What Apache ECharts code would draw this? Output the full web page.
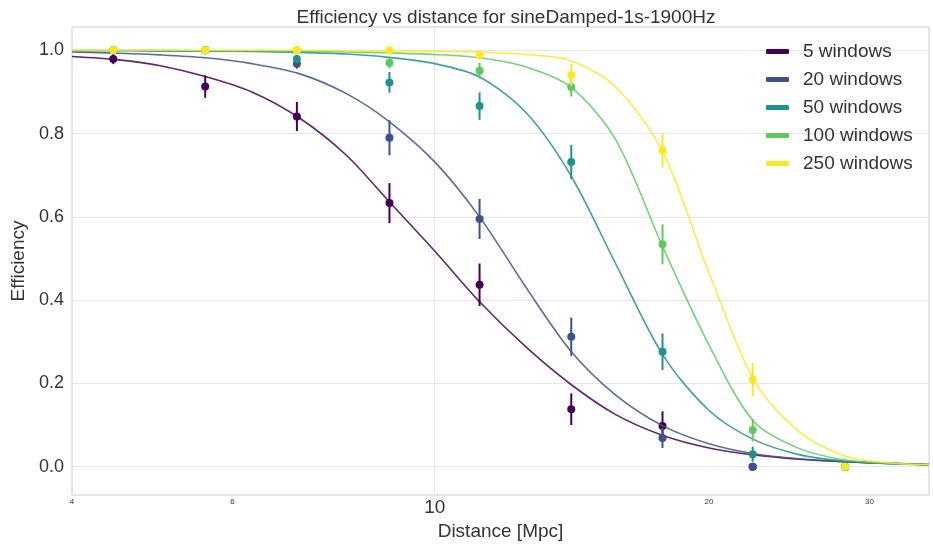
<!DOCTYPE html>
<html><head><meta charset="utf-8">
<script src="https://cdn.jsdelivr.net/npm/echarts@6/dist/echarts.min.js"></script>
<style>html,body{margin:0;padding:0;background:#fff}#c{width:933px;height:546px}</style>
</head><body><div id="c"></div>
<script>
const names = ['5 windows', '20 windows', '50 windows', '100 windows', '250 windows'];
const colors = ['#440154', '#3b528b', '#21918c', '#5ec962', '#fde725'];
const distances = [4.44, 5.60, 7.06, 8.92, 11.2, 14.12, 17.78, 22.33, 28.2];

const eff5 = [0.979, 0.913, 0.841, 0.633, 0.437, 0.138, 0.098, 0, 0];
const err5 = [0.012, 0.027, 0.035, 0.048, 0.051, 0.038, 0.035, 0, 0];
const eff20 = [1, 1, 0.968, 0.79, 0.595, 0.312, 0.069, 0, 0];
const err20 = [0, 0, 0.012, 0.042, 0.048, 0.046, 0.024, 0, 0];
const eff50 = [1, 1, 0.979, 0.923, 0.866, 0.732, 0.276, 0.030, 0];
const err50 = [0, 0, 0.01, 0.025, 0.033, 0.041, 0.044, 0.018, 0];
const eff100 = [1, 1, 1, 0.97, 0.951, 0.912, 0.534, 0.088, 0];
const err100 = [0, 0, 0, 0.013, 0.019, 0.023, 0.048, 0.027, 0];
const eff250 = [1, 1, 1, 1, 0.988, 0.941, 0.760, 0.209, 0];
const err250 = [0, 0, 0, 0, 0.008, 0.026, 0.041, 0.040, 0.005];

// fitted curves at these distances
const fitDist = [4.0, 4.5, 5.0, 5.6, 6.3, 7.1, 8.0, 8.9, 10.0, 11.2, 12.6, 14.1, 15.8, 17.8, 20.0, 22.4, 25.1, 28.2, 31.6, 34.86];
const fit5   = [0.985, 0.977, 0.963, 0.937, 0.900, 0.838, 0.748, 0.638, 0.518, 0.396, 0.287, 0.198, 0.125, 0.075, 0.045, 0.028, 0.018, 0.012, 0.008, 0.005];
const fit20  = [0.996, 0.993, 0.989, 0.982, 0.968, 0.944, 0.896, 0.830, 0.732, 0.600, 0.430, 0.278, 0.172, 0.098, 0.055, 0.031, 0.019, 0.012, 0.008, 0.005];
const fit50  = [0.999, 0.999, 0.998, 0.998, 0.997, 0.995, 0.991, 0.983, 0.968, 0.936, 0.850, 0.700, 0.487, 0.268, 0.135, 0.065, 0.029, 0.013, 0.007, 0.005];
const fit100 = [1.000, 1.000, 1.000, 0.999, 0.999, 0.998, 0.996, 0.994, 0.990, 0.982, 0.960, 0.912, 0.785, 0.527, 0.292, 0.108, 0.044, 0.016, 0.008, 0.005];
const fit250 = [1.000, 1.000, 1.000, 1.000, 1.000, 1.000, 0.999, 0.999, 0.998, 0.996, 0.990, 0.975, 0.912, 0.755, 0.465, 0.208, 0.084, 0.025, 0.009, 0.005];

const xTickLabels = [4, 6, 10, 20, 30];
const yTickLabels = [0, 0.2, 0.4, 0.6, 0.8, 1.0];

const effs = [eff5, eff20, eff50, eff100, eff250];
const errs = [err5, err20, err50, err100, err250];
const fits = [fit5, fit20, fit50, fit100, fit250];

const FONT = 'Liberation Sans, Arial, sans-serif';
const series = [];
names.forEach((name, i) => {
  const color = colors[i];
  series.push({
    type: 'line', name, data: fitDist.map((d, j) => [d, fits[i][j]]), showSymbol: false, smooth: 0.3,
    lineStyle: { width: 1.6, color, opacity: 0.85 }, itemStyle: { color },
    z: 2 + i * 3, silent: true, animation: false
  });
  series.push({
    type: 'custom', name, z: 3 + i * 3, silent: true, animation: false,
    data: distances.map((d, j) => [d, effs[i][j] - errs[i][j], effs[i][j] + errs[i][j]]),
    encode: { x: 0, y: [1, 2] },
    renderItem: (params, api) => {
      const p1 = api.coord([api.value(0), api.value(1)]);
      const p2 = api.coord([api.value(0), api.value(2)]);
      return { type: 'line', shape: { x1: p1[0], y1: p1[1], x2: p2[0], y2: p2[1] }, style: { stroke: color, lineWidth: 2 } };
    }
  });
  series.push({
    type: 'scatter', name, z: 4 + i * 3, silent: true, animation: false,
    data: distances.map((d, j) => [d, effs[i][j]]),
    symbolSize: 8, itemStyle: { color, opacity: 1 }
  });
});

const chart = echarts.init(document.getElementById('c'));
chart.setOption({
  backgroundColor: '#fff',
  animation: false,
  textStyle: { fontFamily: FONT },
  title: {
    text: 'Efficiency vs distance for sineDamped-1s-1900Hz',
    left: 501, top: 3, textAlign: 'center',
    textStyle: { fontSize: 19, fontWeight: 'normal', color: '#333', fontFamily: FONT }
  },
  legend: {
    orient: 'vertical', left: 766, top: 42, padding: 0,
    itemWidth: 23, itemHeight: 5, itemGap: 9,
    textStyle: { fontSize: 19, color: '#333', fontFamily: FONT, padding: [0, 0, 0, 9] },
    data: names.map((n, i) => ({ name: n, icon: 'roundRect', itemStyle: { color: colors[i] } }))
  },
  grid: { left: 72, right: 4, top: 27, bottom: 48, show: true, borderColor: '#cccccc', borderWidth: 1, backgroundColor: '#fff' },
  xAxis: {
    type: 'log', logBase: 10, min: 4, max: 34.86,
    axisLine: { show: false },
    axisTick: { show: false, customValues: [10] },
    splitLine: { show: true, lineStyle: { color: '#e6e6e6', width: 1 } },
    axisLabel: {
      customValues: xTickLabels, margin: 3, color: '#333',
      formatter: v => { const r = Math.round(v); return r === 10 ? '{b|10}' : '{s|' + r + '}'; },
      rich: { b: { fontSize: 19, color: '#333', fontFamily: FONT }, s: { fontSize: 8, color: '#333', fontFamily: FONT } }
    },
    name: 'Distance [Mpc]', nameLocation: 'middle', nameGap: 27,
    nameTextStyle: { fontSize: 19, color: '#333', fontFamily: FONT }
  },
  yAxis: {
    type: 'value', min: -0.068, max: 1.056,
    axisLine: { show: false },
    axisTick: { show: false, customValues: yTickLabels },
    splitLine: { show: true, lineStyle: { color: '#e6e6e6', width: 1 } },
    axisLabel: { customValues: yTickLabels, formatter: v => v.toFixed(1), fontSize: 18, color: '#333', margin: 8, fontFamily: FONT },
    name: 'Efficiency', nameLocation: 'middle', nameGap: 31, nameRotate: 90,
    nameTextStyle: { fontSize: 19, color: '#333', fontFamily: FONT }
  },
  series
});
</script></body></html>
